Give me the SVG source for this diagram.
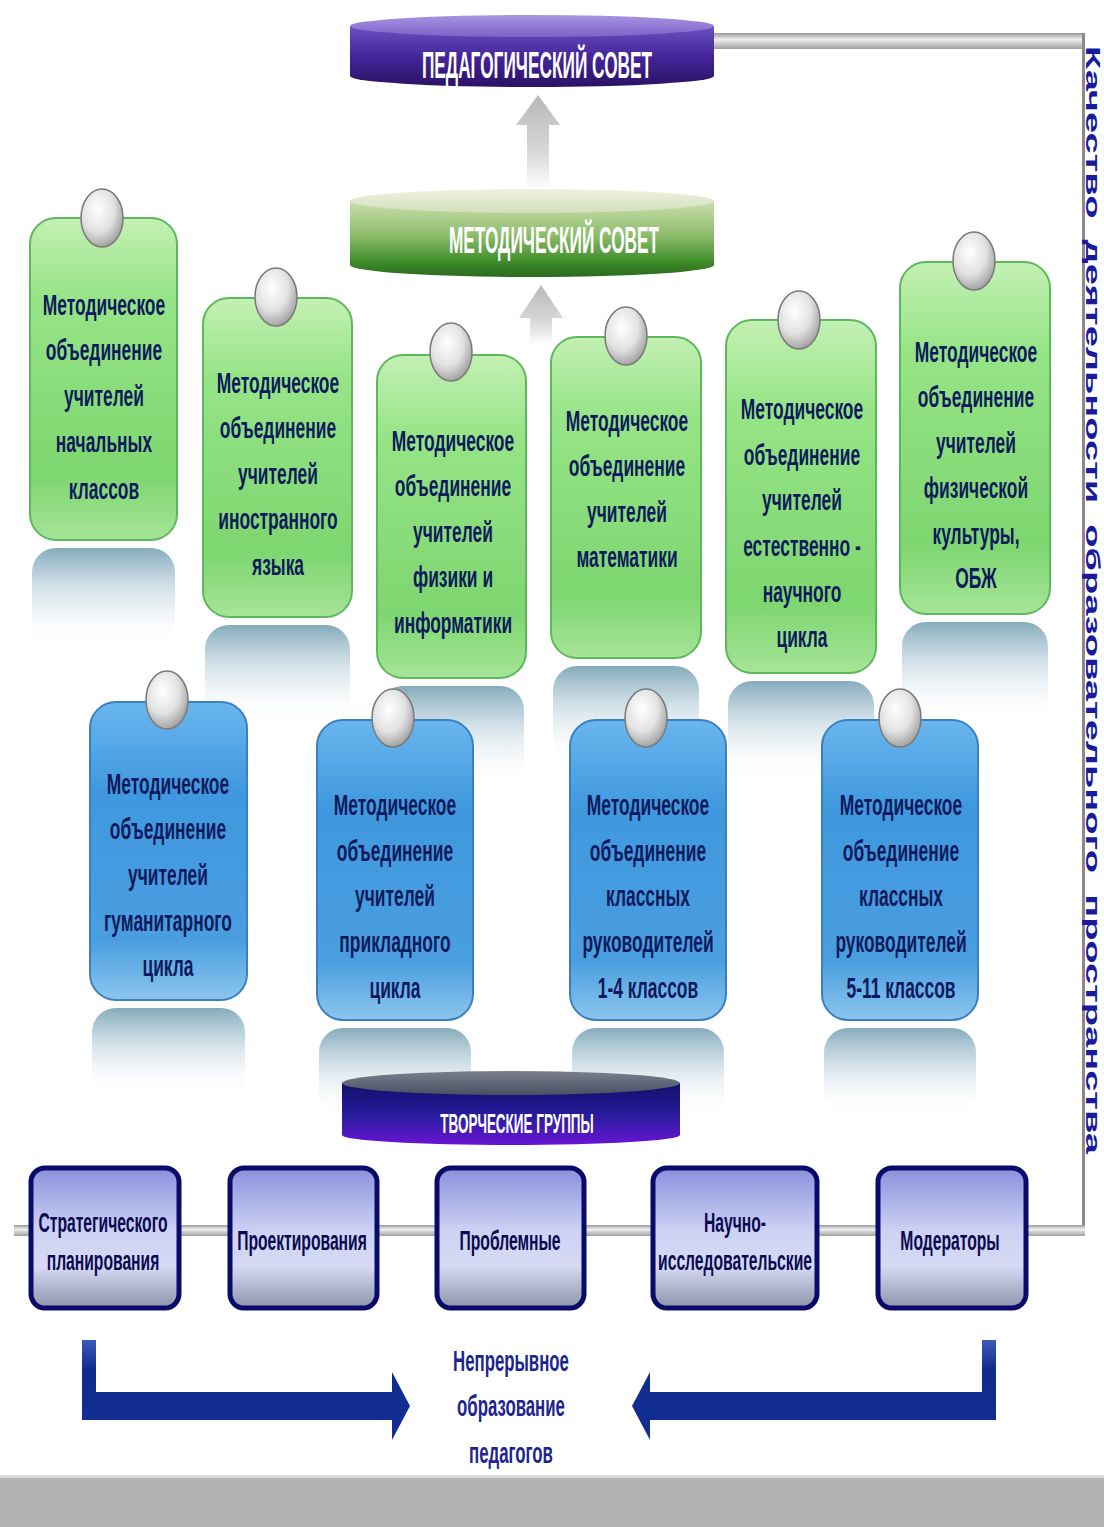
<svg xmlns="http://www.w3.org/2000/svg" width="1104" height="1527" viewBox="0 0 1104 1527">
<defs>
<style>
.bt{font-family:"Liberation Sans",Arial,sans-serif;font-weight:bold;font-size:29px;fill:#0d1a5c;text-anchor:middle}
.hd{font-family:"Liberation Sans",Arial,sans-serif;font-weight:bold;font-size:36px;fill:#ffffff;text-anchor:middle}
.gt{font-family:"Liberation Sans",Arial,sans-serif;font-weight:bold;font-size:27px;fill:#0a0a50;text-anchor:middle}
.nt{font-family:"Liberation Sans",Arial,sans-serif;font-weight:bold;font-size:30px;fill:#1c2590;text-anchor:middle}
.green{fill:url(#gGreen);stroke:#5cb85a;stroke-width:2}
.blue{fill:url(#gBlue);stroke:#3a80c0;stroke-width:2}
.knob{fill:url(#gKnob);stroke:#7a7a7a;stroke-width:1.5}
.refl{fill:url(#gRefl)}
.grp{fill:url(#gGroup);stroke:#0a0a6a;stroke-width:5}
</style>
<linearGradient id="gGreen" x1="0" y1="0" x2="0" y2="1">
<stop offset="0" stop-color="#c4f0b4"/><stop offset="0.25" stop-color="#96e486"/><stop offset="0.8" stop-color="#7ed670"/><stop offset="1" stop-color="#a6e498"/>
</linearGradient>
<linearGradient id="gBlue" x1="0" y1="0" x2="0" y2="1">
<stop offset="0" stop-color="#6ab6ee"/><stop offset="0.3" stop-color="#3f98de"/><stop offset="0.8" stop-color="#4a9ee0"/><stop offset="1" stop-color="#8cc6ee"/>
</linearGradient>
<radialGradient id="gKnob" cx="0.4" cy="0.35" r="0.7">
<stop offset="0" stop-color="#ffffff"/><stop offset="0.55" stop-color="#e2e2e2"/><stop offset="1" stop-color="#9a9a9a"/>
</radialGradient>
<linearGradient id="gRefl" x1="0" y1="0" x2="0" y2="1">
<stop offset="0" stop-color="#6f9cb0" stop-opacity="0.85"/><stop offset="0.35" stop-color="#a8c4d2" stop-opacity="0.6"/><stop offset="1" stop-color="#ffffff" stop-opacity="0"/>
</linearGradient>
<linearGradient id="gGroup" x1="0" y1="0" x2="0" y2="1">
<stop offset="0" stop-color="#8a90dc"/><stop offset="0.45" stop-color="#cdd2f4"/><stop offset="0.7" stop-color="#d6daf4"/><stop offset="1" stop-color="#8e94ac"/>
</linearGradient>
<linearGradient id="gPedBody" x1="0" y1="0" x2="0" y2="1">
<stop offset="0" stop-color="#6a50c0"/><stop offset="0.5" stop-color="#44269a"/><stop offset="1" stop-color="#2a1264"/>
</linearGradient>
<linearGradient id="gPedTop" x1="0" y1="0" x2="0" y2="1">
<stop offset="0" stop-color="#a894e0"/><stop offset="1" stop-color="#7c62ca"/>
</linearGradient>
<linearGradient id="gMetBody" x1="0" y1="0" x2="0" y2="1">
<stop offset="0" stop-color="#cadfac"/><stop offset="0.45" stop-color="#8ebc6c"/><stop offset="0.8" stop-color="#3e8c2a"/><stop offset="1" stop-color="#2a6a1c"/>
</linearGradient>
<linearGradient id="gMetTop" x1="0" y1="0" x2="0" y2="1">
<stop offset="0" stop-color="#eef2e2"/><stop offset="1" stop-color="#d2dfba"/>
</linearGradient>
<linearGradient id="gCreBody" x1="0" y1="0" x2="0" y2="1">
<stop offset="0" stop-color="#10106a"/><stop offset="0.55" stop-color="#2a1ca0"/><stop offset="1" stop-color="#6a14d4"/>
</linearGradient>
<linearGradient id="gCreTop" x1="0" y1="0" x2="0" y2="1">
<stop offset="0" stop-color="#7a808e"/><stop offset="1" stop-color="#4a5062"/>
</linearGradient>
<linearGradient id="gArrowGray" x1="0" y1="0" x2="0" y2="1">
<stop offset="0" stop-color="#b8b8b8"/><stop offset="0.6" stop-color="#d8d8d8"/><stop offset="1" stop-color="#ffffff"/>
</linearGradient>
<linearGradient id="gBar" x1="0" y1="0" x2="0" y2="1">
<stop offset="0" stop-color="#9a9a9a"/><stop offset="0.4" stop-color="#eeeeee"/><stop offset="1" stop-color="#a0a0a0"/>
</linearGradient>
<linearGradient id="gNavy" x1="0" y1="0" x2="0" y2="1">
<stop offset="0" stop-color="#3a5ab8"/><stop offset="0.3" stop-color="#0e2c8c"/><stop offset="1" stop-color="#142e94"/>
</linearGradient>
</defs>
<rect x="0" y="0" width="1104" height="1527" fill="#ffffff"/>

<g id="connectors">
<rect x="713" y="33" width="372" height="16" fill="url(#gBar)"/>
<rect x="1082" y="33" width="3" height="1203" fill="#8a8a8a"/>
<rect x="14" y="1225" width="1071" height="11" fill="url(#gBar)"/>
<polygon points="527,190 527,125 516,125 538,95 560,125 549,125 549,190" fill="url(#gArrowGray)"/>
<polygon points="530,345 530,318 519,318 541,285 563,318 552,318 552,345" fill="url(#gArrowGray)"/>
<polygon points="82,1340 96,1340 96,1392 392,1392 392,1372 410,1406 392,1440 392,1420 82,1420" fill="url(#gNavy)"/>
<polygon points="996,1340 982,1340 982,1392 650,1392 650,1372 632,1406 650,1440 650,1420 996,1420" fill="url(#gNavy)"/>
</g>

<g id="ped-council">
<path d="M350,26 L350,76 A182,11 0 0 0 714,76 L714,26 Z" fill="url(#gPedBody)"/>
<ellipse cx="532" cy="26" rx="182" ry="11" fill="url(#gPedTop)"/>
<g transform="translate(537,0) scale(0.48,1)"><text class="hd" x="0" y="78">ПЕДАГОГИЧЕСКИЙ СОВЕТ</text></g>
</g>

<g id="met-council">
<path d="M350,201 L350,265 A182,12 0 0 0 714,265 L714,201 Z" fill="url(#gMetBody)"/>
<ellipse cx="532" cy="201" rx="182" ry="12" fill="url(#gMetTop)"/>
<g transform="translate(554,0) scale(0.48,1)"><text class="hd" x="0" y="253">МЕТОДИЧЕСКИЙ СОВЕТ</text></g>
</g>

<g id="reflections-green">
<rect class="refl" x="32" y="548" width="143" height="100" rx="24"/>
<rect class="refl" x="205" y="625" width="145" height="100" rx="24"/>
<rect class="refl" x="379" y="686" width="145" height="100" rx="24"/>
<rect class="refl" x="553" y="666" width="146" height="100" rx="24"/>
<rect class="refl" x="728" y="681" width="146" height="100" rx="24"/>
<rect class="refl" x="902" y="622" width="146" height="100" rx="24"/>
</g>

<g id="mo-primary">
<rect class="green" x="30" y="218" width="147" height="322" rx="26"/>
<ellipse class="knob" cx="102" cy="218" rx="21" ry="29"/>
<g transform="translate(104,0) scale(0.6,1)">
<text class="bt" x="0" y="315">Методическое</text><text class="bt" x="0" y="360">объединение</text><text class="bt" x="0" y="406">учителей</text><text class="bt" x="0" y="452">начальных</text><text class="bt" x="0" y="499">классов</text>
</g>
</g>

<g id="mo-foreign">
<rect class="green" x="203" y="298" width="149" height="319" rx="26"/>
<ellipse class="knob" cx="276" cy="297" rx="21" ry="29"/>
<g transform="translate(278,0) scale(0.6,1)">
<text class="bt" x="0" y="393">Методическое</text><text class="bt" x="0" y="438">объединение</text><text class="bt" x="0" y="484">учителей</text><text class="bt" x="0" y="529">иностранного</text><text class="bt" x="0" y="575">языка</text>
</g>
</g>

<g id="mo-physics">
<rect class="green" x="377" y="355" width="149" height="323" rx="26"/>
<ellipse class="knob" cx="451" cy="352" rx="21" ry="29"/>
<g transform="translate(453,0) scale(0.6,1)">
<text class="bt" x="0" y="451">Методическое</text><text class="bt" x="0" y="496">объединение</text><text class="bt" x="0" y="542">учителей</text><text class="bt" x="0" y="587">физики и</text><text class="bt" x="0" y="633">информатики</text>
</g>
</g>

<g id="mo-math">
<rect class="green" x="551" y="337" width="150" height="321" rx="26"/>
<ellipse class="knob" cx="626" cy="336" rx="21" ry="29"/>
<g transform="translate(627,0) scale(0.6,1)">
<text class="bt" x="0" y="431">Методическое</text><text class="bt" x="0" y="476">объединение</text><text class="bt" x="0" y="522">учителей</text><text class="bt" x="0" y="567">математики</text>
</g>
</g>

<g id="mo-science">
<rect class="green" x="726" y="320" width="150" height="353" rx="26"/>
<ellipse class="knob" cx="799" cy="320" rx="21" ry="29"/>
<g transform="translate(802,0) scale(0.6,1)">
<text class="bt" x="0" y="419">Методическое</text><text class="bt" x="0" y="465">объединение</text><text class="bt" x="0" y="510">учителей</text><text class="bt" x="0" y="556">естественно -</text><text class="bt" x="0" y="602">научного</text><text class="bt" x="0" y="647">цикла</text>
</g>
</g>

<g id="mo-pe">
<rect class="green" x="900" y="262" width="150" height="352" rx="26"/>
<ellipse class="knob" cx="974" cy="261" rx="21" ry="29"/>
<g transform="translate(976,0) scale(0.6,1)">
<text class="bt" x="0" y="362">Методическое</text><text class="bt" x="0" y="407">объединение</text><text class="bt" x="0" y="453">учителей</text><text class="bt" x="0" y="498">физической</text><text class="bt" x="0" y="544">культуры,</text><text class="bt" x="0" y="588">ОБЖ</text>
</g>
</g>

<g id="reflections-blue">
<rect class="refl" x="92" y="1008" width="153" height="90" rx="24"/>
<rect class="refl" x="319" y="1028" width="152" height="90" rx="24"/>
<rect class="refl" x="572" y="1028" width="152" height="90" rx="24"/>
<rect class="refl" x="824" y="1028" width="152" height="90" rx="24"/>
</g>

<g id="mo-humanities">
<rect class="blue" x="90" y="702" width="157" height="298" rx="26"/>
<ellipse class="knob" cx="167" cy="700" rx="21" ry="29"/>
<g transform="translate(168,0) scale(0.6,1)">
<text class="bt" x="0" y="794">Методическое</text><text class="bt" x="0" y="839">объединение</text><text class="bt" x="0" y="885">учителей</text><text class="bt" x="0" y="931">гуманитарного</text><text class="bt" x="0" y="976">цикла</text>
</g>
</g>

<g id="mo-applied">
<rect class="blue" x="317" y="720" width="156" height="300" rx="26"/>
<ellipse class="knob" cx="393" cy="718" rx="21" ry="29"/>
<g transform="translate(395,0) scale(0.6,1)">
<text class="bt" x="0" y="815">Методическое</text><text class="bt" x="0" y="861">объединение</text><text class="bt" x="0" y="906">учителей</text><text class="bt" x="0" y="952">прикладного</text><text class="bt" x="0" y="998">цикла</text>
</g>
</g>

<g id="mo-class-1-4">
<rect class="blue" x="570" y="720" width="156" height="300" rx="26"/>
<ellipse class="knob" cx="646" cy="718" rx="21" ry="29"/>
<g transform="translate(648,0) scale(0.6,1)">
<text class="bt" x="0" y="815">Методическое</text><text class="bt" x="0" y="861">объединение</text><text class="bt" x="0" y="906">классных</text><text class="bt" x="0" y="952">руководителей</text><text class="bt" x="0" y="998">1-4 классов</text>
</g>
</g>

<g id="mo-class-5-11">
<rect class="blue" x="822" y="720" width="156" height="300" rx="26"/>
<ellipse class="knob" cx="900" cy="718" rx="21" ry="29"/>
<g transform="translate(901,0) scale(0.6,1)">
<text class="bt" x="0" y="815">Методическое</text><text class="bt" x="0" y="861">объединение</text><text class="bt" x="0" y="906">классных</text><text class="bt" x="0" y="952">руководителей</text><text class="bt" x="0" y="998">5-11 классов</text>
</g>
</g>

<g id="creative-groups">
<path d="M342,1083 L342,1135 A169,10 0 0 0 680,1135 L680,1083 Z" fill="url(#gCreBody)"/>
<ellipse cx="511" cy="1083" rx="169" ry="12" fill="url(#gCreTop)"/>
<g transform="translate(517,0) scale(0.5,1)"><text class="hd" style="font-size:27px" x="0" y="1133">ТВОРЧЕСКИЕ ГРУППЫ</text></g>
</g>

<g id="grp-strategic">
<rect class="grp" x="31" y="1168" width="148" height="140" rx="14"/>
<g transform="translate(103,0) scale(0.58,1)"><text class="gt" x="0" y="1232">Стратегического</text><text class="gt" x="0" y="1270">планирования</text></g>
</g>
<g id="grp-design">
<rect class="grp" x="230" y="1168" width="147" height="140" rx="14"/>
<g transform="translate(302,0) scale(0.58,1)"><text class="gt" x="0" y="1250">Проектирования</text></g>
</g>
<g id="grp-problem">
<rect class="grp" x="437" y="1168" width="147" height="140" rx="14"/>
<g transform="translate(510,0) scale(0.58,1)"><text class="gt" x="0" y="1250">Проблемные</text></g>
</g>
<g id="grp-research">
<rect class="grp" x="653" y="1168" width="164" height="140" rx="14"/>
<g transform="translate(735,0) scale(0.58,1)"><text class="gt" x="0" y="1232">Научно-</text><text class="gt" x="0" y="1270">исследовательские</text></g>
</g>
<g id="grp-moderators">
<rect class="grp" x="878" y="1168" width="148" height="140" rx="14"/>
<g transform="translate(950,0) scale(0.58,1)"><text class="gt" x="0" y="1250">Модераторы</text></g>
</g>

<g id="continuous-education">
<g transform="translate(511,0) scale(0.56,1)">
<text class="nt" x="0" y="1371">Непрерывное</text><text class="nt" x="0" y="1416">образование</text><text class="nt" x="0" y="1463">педагогов</text>
</g>
</g>

<g id="quality-label">
<text transform="translate(1086,600) rotate(90)" x="0" y="0" text-anchor="middle" textLength="1108" lengthAdjust="spacingAndGlyphs" style="font-family:'Liberation Sans',Arial,sans-serif;font-weight:bold;font-size:20px;fill:#1a1a9c" xml:space="preserve">Качество  деятельности  образовательного  пространства</text>
</g>

<g id="footer-band">
<rect x="0" y="1477" width="1104" height="50" fill="#b3b3b3"/>
<rect x="0" y="1475" width="1104" height="3" fill="#dadada"/>
</g>
</svg>
